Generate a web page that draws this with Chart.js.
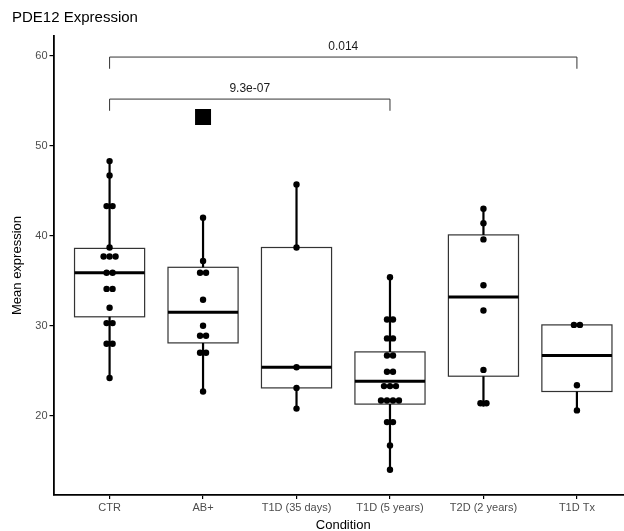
<!DOCTYPE html>
<html>
<head>
<meta charset="utf-8">
<script src="https://cdn.jsdelivr.net/npm/chart.js@4.4.1/dist/chart.umd.min.js"></script>
<style>
  html, body { margin: 0; padding: 0; background: #fff; overflow: hidden; }
  #wrap { width: 624px; height: 531px; overflow: hidden; }
  canvas { display: block; }
</style>
</head>
<body>
<div id="wrap"><canvas id="chart" width="650" height="531" style="width:650px;height:531px"></canvas></div>
<script>
// categories and per-group sample values
const categories = ['CTR', 'AB+', 'T1D (35 days)', 'T1D (5 years)', 'T2D (2 years)', 'T1D Tx'];

const ctrValues   = [48.3, 46.7, 43.3, 43.3, 38.7, 37.7, 37.7, 37.7, 35.9, 35.9, 34.1, 34.1, 32.0, 30.3, 30.3, 28.0, 28.0, 24.2];
const abValues    = [42.0, 37.2, 35.9, 35.9, 32.9, 30.0, 28.9, 28.9, 27.0, 27.0, 22.7];
const t1d35Values = [45.7, 38.7, 25.4, 23.1, 20.8];
const t1d5yValues = [35.4, 30.7, 30.7, 28.6, 28.6, 26.7, 26.7, 24.9, 24.9, 23.3, 23.3, 23.3, 21.7, 21.7, 21.7, 21.7, 19.3, 19.3, 16.7, 14.0];
const t2dValues   = [43.0, 41.4, 39.6, 34.5, 31.7, 25.1, 21.4, 21.4];
const t1dTxValues = [30.1, 30.1, 23.4, 20.6];
const groupValues = [ctrValues, abValues, t1d35Values, t1d5yValues, t2dValues, t1dTxValues];

// box statistics
const boxQ1     = [31.0, 28.1, 23.1, 21.3, 24.4, 22.7];
const boxMedian = [35.9, 31.5, 25.4, 23.85, 33.2, 26.7];
const boxQ3     = [38.6, 36.5, 38.7, 27.1, 40.1, 30.1];
const whiskerLo = [24.2, 22.7, 20.8, 14.0, 21.0, 20.6];
const whiskerHi = [48.3, 42.0, 45.7, 35.4, 43.0, 30.1];

// outliers
const outlierGroup = [2];
const outlierValue = [53.2];

// significance brackets
const bracketFrom  = [1, 1];
const bracketTo    = [6, 4];
const bracketY     = [59.86, 55.19];
const bracketLabel = ['0.014', '9.3e-07'];

const yTicks = [20, 30, 40, 50, 60];

const FONT = "'Liberation Sans', Arial, Helvetica, sans-serif";
const DOT_STEP = 0.064;   // horizontal spacing of stacked dots (x units)
const BOX_HALF = 0.375;
const TIP = 1.3;

// stack equal values side by side like a dot plot
const dotPoints = [];
groupValues.forEach((vals, g) => {
  const counts = {};
  vals.forEach(v => { counts[v] = (counts[v] || 0) + 1; });
  const seen = {};
  vals.forEach(v => {
    const k = counts[v];
    const j = seen[v] || 0;
    seen[v] = j + 1;
    dotPoints.push({ x: g + 1 + (j - (k - 1) / 2) * DOT_STEP, y: v });
  });
});
const outlierPoints = outlierGroup.map((g, i) => ({ x: g, y: outlierValue[i] }));

const boxPlugin = {
  id: 'boxes',
  beforeDatasetsDraw(chart) {
    const { ctx, scales: { x, y } } = chart;
    ctx.save();
    categories.forEach((c, i) => {
      const xc = x.getPixelForValue(i + 1);
      const xl = x.getPixelForValue(i + 1 - BOX_HALF);
      const xr = x.getPixelForValue(i + 1 + BOX_HALF);
      const yq1 = y.getPixelForValue(boxQ1[i]);
      const yq3 = y.getPixelForValue(boxQ3[i]);
      const ym = y.getPixelForValue(boxMedian[i]);
      // box
      ctx.fillStyle = '#fff';
      ctx.strokeStyle = '#333333';
      ctx.lineWidth = 1.2;
      ctx.fillRect(xl, yq3, xr - xl, yq1 - yq3);
      ctx.strokeRect(xl, yq3, xr - xl, yq1 - yq3);
      // median
      ctx.strokeStyle = '#000';
      ctx.lineWidth = 3;
      ctx.beginPath();
      ctx.moveTo(xl, ym);
      ctx.lineTo(xr, ym);
      ctx.stroke();
      // whiskers
      ctx.lineWidth = 2.2;
      ctx.beginPath();
      ctx.moveTo(xc, yq3);
      ctx.lineTo(xc, y.getPixelForValue(whiskerHi[i]));
      ctx.moveTo(xc, yq1);
      ctx.lineTo(xc, y.getPixelForValue(whiskerLo[i]));
      ctx.stroke();
    });
    // brackets
    ctx.strokeStyle = '#333333';
    ctx.lineWidth = 1;
    ctx.fillStyle = '#1a1a1a';
    ctx.font = '12px ' + FONT;
    ctx.textAlign = 'center';
    ctx.textBaseline = 'bottom';
    bracketLabel.forEach((lab, i) => {
      const x1 = x.getPixelForValue(bracketFrom[i]);
      const x2 = x.getPixelForValue(bracketTo[i]);
      const yb = y.getPixelForValue(bracketY[i]);
      const yt = y.getPixelForValue(bracketY[i] - TIP);
      ctx.beginPath();
      ctx.moveTo(x1, yt);
      ctx.lineTo(x1, yb);
      ctx.lineTo(x2, yb);
      ctx.lineTo(x2, yt);
      ctx.stroke();
      ctx.fillText(lab, (x1 + x2) / 2, yb - 4);
    });
    ctx.restore();
  },
  afterDraw(chart) {
    const { ctx } = chart;
    ctx.save();
    ctx.fillStyle = '#000';
    ctx.font = '15px ' + FONT;
    ctx.textAlign = 'left';
    ctx.textBaseline = 'middle';
    ctx.fillText('PDE12 Expression', 12, 18);
    ctx.restore();
  }
};

new Chart(document.getElementById('chart'), {
  type: 'scatter',
  data: {
    datasets: [
      {
        data: dotPoints,
        backgroundColor: '#000',
        borderWidth: 0,
        pointRadius: 3.2,
        pointHoverRadius: 3.2
      },
      {
        data: outlierPoints,
        pointStyle: 'rect',
        backgroundColor: '#000',
        borderWidth: 0,
        pointRadius: 11.3,
        pointHoverRadius: 11.3
      }
    ]
  },
  options: {
    responsive: false,
    devicePixelRatio: 1,
    animation: false,
    layout: { padding: { top: 36, right: 17, bottom: 0, left: 0 } },
    plugins: {
      legend: { display: false },
      tooltip: { enabled: false },
      title: { display: false }
    },
    scales: {
      x: {
        type: 'linear',
        min: 0.4,
        max: 6.6,
        afterBuildTicks: s => { s.ticks = categories.map((c, i) => ({ value: i + 1 })); },
        afterFit: s => { s.height = 36; },
        grid: { display: true, drawOnChartArea: false, drawTicks: true, tickLength: 4, color: '#000', lineWidth: 1.2 },
        border: { display: true, color: '#000', width: 1.8 },
        ticks: {
          color: '#4d4d4d',
          font: { family: FONT, size: 11 },
          padding: 2,
          maxRotation: 0,
          autoSkip: false,
          callback: v => categories[v - 1]
        },
        title: {
          display: true,
          text: 'Condition',
          color: '#000',
          font: { family: FONT, size: 13 },
          padding: { top: 0, bottom: -2 }
        }
      },
      y: {
        min: 11.2,
        max: 62.2,
        afterBuildTicks: s => { s.ticks = yTicks.map(v => ({ value: v })); },
        afterFit: s => { s.width = 53.5; },
        grid: { display: true, drawOnChartArea: false, drawTicks: true, tickLength: 4, color: '#000', lineWidth: 1.2 },
        border: { display: true, color: '#000', width: 1.8 },
        ticks: {
          color: '#4d4d4d',
          font: { family: FONT, size: 11 },
          padding: 2
        },
        title: {
          display: true,
          text: 'Mean expression',
          color: '#000',
          font: { family: FONT, size: 13 },
          padding: { top: 10, bottom: 0 }
        }
      }
    }
  },
  plugins: [boxPlugin]
});
</script>
</body>
</html>
